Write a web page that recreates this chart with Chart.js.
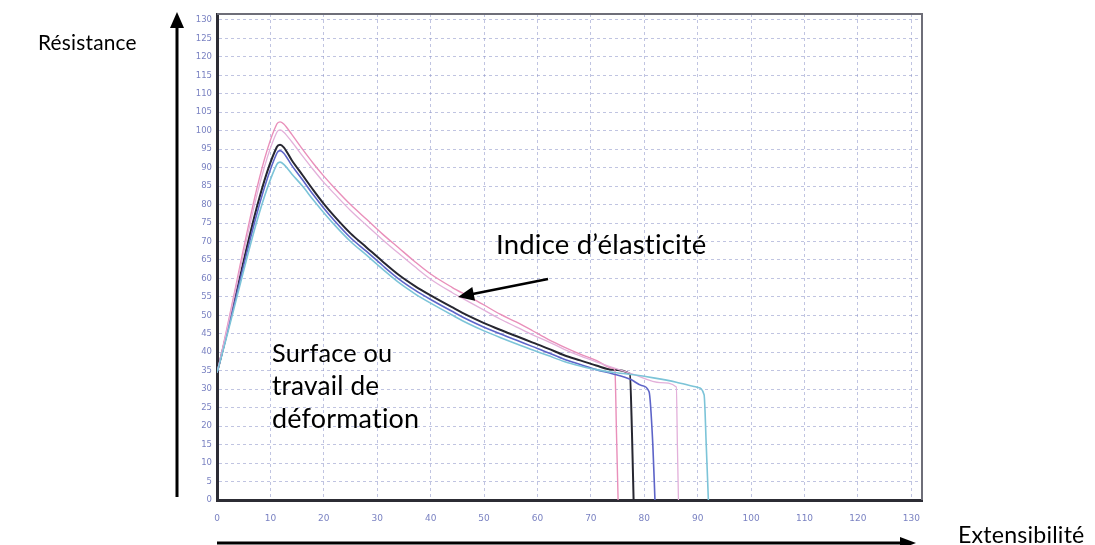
<!DOCTYPE html>
<html><head><meta charset="utf-8">
<script src="https://cdn.jsdelivr.net/npm/chart.js@4/dist/chart.umd.min.js"></script>
<style>html,body{margin:0;padding:0;background:#fff;}#wrap{position:relative;width:1095px;height:545px;}</style>
</head><body><div id="wrap"><canvas id="c" width="1095" height="545"></canvas></div>
<script>
// ---- tick labels ----
const xTicks = [0,10,20,30,40,50,60,70,80,90,100,110,120,130];
const yTicks = [0,5,10,15,20,25,30,35,40,45,50,55,60,65,70,75,80,85,90,95,100,105,110,115,120,125,130];

// ---- series (extensibilité x, résistance y) ----
const pinkX  = [0, 11.2, 11.8, 12.5, 14, 16, 18, 20, 22, 25, 28, 31, 34, 37, 40, 44, 47, 50, 53, 56, 59, 62, 65, 68, 71, 74, 74.5, 74.8, 75.1];
const pinkY  = [34.5, 101.8, 102.4, 101.8, 99, 95, 91.2, 87.7, 84.5, 80, 76, 72, 68.3, 64.6, 61.2, 57.6, 55.2, 52.8, 50.3, 48.2, 45.9, 43.5, 41.4, 39.5, 37.8, 35.7, 35.2, 18, 0];

const lpinkX = [0, 11.2, 11.8, 12.5, 14, 16, 18, 20, 22, 25, 28, 31, 34, 37, 40, 44, 47, 50, 53, 56, 59, 62, 65, 68, 71, 74, 78, 83, 86, 86.2, 86.4];
const lpinkY = [34.5, 99.6, 100.2, 99.6, 97, 93.2, 89.5, 86, 82.9, 78.4, 74.4, 70.5, 66.8, 63.2, 59.8, 56.2, 53.8, 51.4, 49.0, 46.9, 44.8, 42.9, 40.8, 39.0, 37.4, 35.9, 34, 31.8, 30.6, 15, 0];

const blackX = [0, 11.2, 11.8, 12.5, 14, 16, 18, 20, 22, 25, 28, 31, 34, 37, 40, 44, 47, 50, 53, 56, 59, 62, 65, 68, 71, 74, 77.3, 77.7, 78.0];
const blackY = [34.5, 95.6, 96.2, 95.5, 92, 88, 84, 80.2, 76.8, 72.2, 68.4, 64.6, 61, 58, 55.4, 52.2, 49.9, 47.9, 46.1, 44.4, 42.7, 41.0, 39.2, 37.8, 36.4, 35.3, 34.2, 18, 0];

const blueX  = [0, 11.2, 11.8, 12.5, 14, 16, 18, 20, 22, 25, 28, 31, 34, 37, 40, 44, 47, 50, 53, 56, 59, 62, 65, 68, 71, 74, 77.5, 79.5, 80.9, 81.6, 82.0];
const blueY  = [34.5, 93.9, 94.6, 93.9, 90.6, 86.7, 82.7, 79, 75.6, 71, 67.3, 63.5, 59.9, 56.9, 54.3, 51.1, 48.8, 46.8, 45, 43.3, 41.6, 39.9, 38.1, 36.7, 35.3, 34.2, 32.6, 31.0, 29.3, 15, 0];

const cyanX  = [0, 11.2, 11.8, 12.5, 14, 16, 18, 20, 22, 25, 28, 31, 34, 37, 40, 44, 47, 50, 53, 56, 59, 62, 65, 68, 71, 74, 78, 82, 86, 90, 91.2, 91.6, 92.0];
const cyanY  = [34.5, 90.9, 91.5, 90.9, 88.3, 85, 81.3, 77.8, 74.5, 70, 66.3, 62.5, 58.9, 55.9, 53.3, 50.1, 47.8, 45.8, 44.0, 42.3, 40.7, 39.1, 37.5, 36.3, 35.3, 34.6, 33.9, 33.0, 31.9, 30.5, 28.5, 15, 0];

const pts = (xs, ys) => xs.map((x, i) => ({x, y: ys[i]}));
const mk = (xs, ys, color, w) => ({
  data: pts(xs, ys), showLine: true, borderColor: color, borderWidth: w,
  pointRadius: 0, cubicInterpolationMode: 'monotone', fill: false
});

const FONT = 'Lato, "Open Sans", sans-serif';
const texts = [
  {t: 'Résistance', x: 38, y: 50, w: 99},
  {t: 'Extensibilité', x: 958, y: 543, w: 127},
  {t: 'Indice d\u2019élasticité', x: 496, y: 254, w: 212},
  {t: 'Surface ou', x: 272, y: 362, w: 121},
  {t: 'travail de', x: 272, y: 395, w: 108},
  {t: 'déformation', x: 272, y: 428, w: 148}
];

function arrowHead(ctx, x1, y1, x2, y2, len, half) {
  const a = Math.atan2(y2 - y1, x2 - x1);
  ctx.beginPath();
  ctx.moveTo(x2, y2);
  ctx.lineTo(x2 - len * Math.cos(a) + half * Math.sin(a), y2 - len * Math.sin(a) - half * Math.cos(a));
  ctx.lineTo(x2 - len * Math.cos(a) - half * Math.sin(a), y2 - len * Math.sin(a) + half * Math.cos(a));
  ctx.closePath();
  ctx.fill();
}
function arrow(ctx, x1, y1, x2, y2, lw, len, half) {
  const a = Math.atan2(y2 - y1, x2 - x1);
  ctx.lineWidth = lw;
  ctx.beginPath();
  ctx.moveTo(x1, y1);
  ctx.lineTo(x2 - (len - 1) * Math.cos(a), y2 - (len - 1) * Math.sin(a));
  ctx.stroke();
  arrowHead(ctx, x1, y1, x2, y2, len, half);
}

const deco = {
  id: 'deco',
  beforeDraw(chart) {
    const ctx = chart.ctx;
    ctx.save();
    ctx.fillStyle = '#fff';
    ctx.fillRect(0, 0, chart.width, chart.height);
    ctx.restore();
  },
  afterDraw(chart) {
    const ctx = chart.ctx, a = chart.chartArea;
    ctx.save();
    // frame top / right
    ctx.strokeStyle = '#6e6e78';
    ctx.lineWidth = 2;
    ctx.beginPath();
    ctx.moveTo(a.left, a.top);
    ctx.lineTo(a.right, a.top);
    ctx.lineTo(a.right, a.bottom);
    ctx.stroke();
    // arrows
    ctx.strokeStyle = '#000';
    ctx.fillStyle = '#000';
    arrow(ctx, 177, 497, 177, 12, 3, 16, 7);
    arrow(ctx, 217, 543, 916, 543, 3, 16, 6);
    arrow(ctx, 548, 279, 458, 297, 2.5, 16, 7);
    // texts (letter spacing set to a tiny value so that no ligatures are formed)
    ctx.textBaseline = 'alphabetic';
    ctx.textAlign = 'left';
    try { ctx.letterSpacing = '0.2px'; } catch (e) {}
    texts.forEach(o => {
      ctx.font = '20px ' + FONT;
      const m = ctx.measureText(o.t).width;
      const size = 20 * o.w / m;
      ctx.font = size.toFixed(2) + 'px ' + FONT;
      ctx.fillText(o.t, o.x, o.y);
    });
    ctx.restore();
  }
};

const gridColor = 'rgba(140,148,200,0.55)';
const tickColor = '#7a82c2';

new Chart(document.getElementById('c'), {
  type: 'scatter',
  data: {
    datasets: [
      mk(cyanX, cyanY, '#7cc4d8', 1.6),
      mk(lpinkX, lpinkY, '#e3b0da', 1.3),
      mk(blueX, blueY, '#5d64c8', 1.6),
      mk(pinkX, pinkY, '#e98fba', 1.4),
      mk(blackX, blackY, '#262630', 2)
    ]
  },
  options: {
    responsive: false,
    animation: false,
    layout: {padding: {top: 14, right: 173, bottom: 0, left: 0}},
    plugins: {legend: {display: false}, tooltip: {enabled: false}},
    scales: {
      x: {
        type: 'linear', min: 0, max: 132,
        afterBuildTicks: s => { s.ticks = xTicks.map(v => ({value: v})); },
        afterFit: s => { s.height = 45; },
        grid: {color: gridColor, lineWidth: 1, drawTicks: false},
        border: {display: true, color: '#2c2c34', width: 3, dash: [3, 3]},
        ticks: {color: tickColor, padding: 13, maxRotation: 0, autoSkip: false,
                font: {family: 'DejaVu Sans', size: 9}}
      },
      y: {
        type: 'linear', min: 0, max: 131.6,
        afterBuildTicks: s => { s.ticks = yTicks.map(v => ({value: v})); },
        afterFit: s => { s.width = 217; },
        grid: {color: gridColor, lineWidth: 1, drawTicks: false},
        border: {display: true, color: '#2c2c34', width: 3, dash: [3, 3]},
        ticks: {color: tickColor, padding: 5, autoSkip: false,
                font: {family: 'DejaVu Sans', size: 8.5}}
      }
    }
  },
  plugins: [deco]
});
</script>
</body></html>
